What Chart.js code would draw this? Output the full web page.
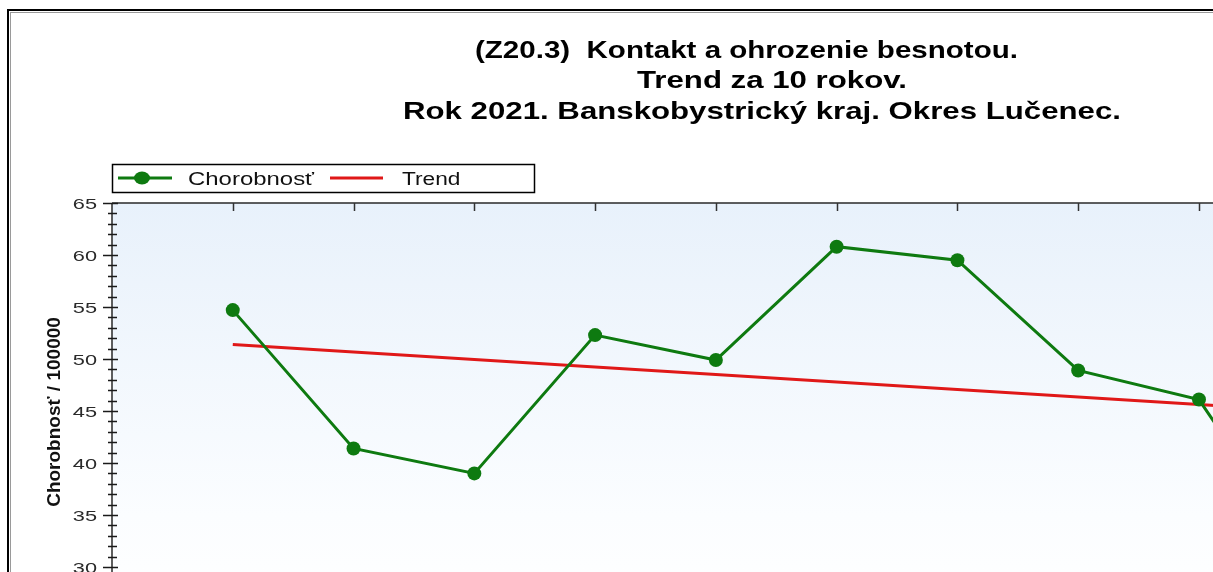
<!DOCTYPE html>
<html>
<head>
<meta charset="utf-8">
<script src="https://cdn.jsdelivr.net/npm/chart.js@4.4.1/dist/chart.umd.min.js"></script>
<style>
  html, body { margin: 0; padding: 0; background: #ffffff; overflow: hidden; width: 1213px; height: 572px; }
  #wrap { position: absolute; left: 0; top: 0; width: 1530px; height: 720px; }
</style>
</head>
<body>
<div id="wrap"><canvas id="c" width="1530" height="720"></canvas></div>
<script>
// ---- data ----
const titleLines = [
  "(Z20.3)  Kontakt a ohrozenie besnotou.",
  "Trend za 10 rokov.",
  "Rok 2021. Banskobystrický kraj. Okres Lučenec."
];
const yAxisTitle = "Chorobnosť / 100000";
const years = [2012, 2013, 2014, 2015, 2016, 2017, 2018, 2019, 2020, 2021];
const incidence = [54.7, 41.4, 39.0, 52.3, 49.9, 60.8, 59.5, 48.9, 46.1, 29.0];
const trendYears = [2012, 2021];
const trendValues = [51.4, 44.9];
const seriesLabels = ["Chorobnosť", "Trend"];

const GREEN = '#0e7a10';
const RED = '#e01818';

function stretchedText(ctx, text, x, y, sx, align, font, color) {
  ctx.save();
  ctx.font = font;
  ctx.fillStyle = color;
  ctx.textAlign = align;
  ctx.textBaseline = 'alphabetic';
  ctx.translate(x, y);
  ctx.scale(sx, 1);
  ctx.fillText(text, 0, 0);
  ctx.restore();
}

const decor = {
  id: 'decor',
  beforeDraw(chart) {
    const ctx = chart.ctx;
    const a = chart.chartArea;
    ctx.save();
    ctx.fillStyle = '#ffffff';
    ctx.fillRect(0, 0, chart.width, chart.height);
    // outer frame
    ctx.strokeStyle = '#9a9a9a';
    ctx.lineWidth = 1;
    ctx.strokeRect(10.5, 12.5, chart.width - 20, chart.height - 20);
    ctx.strokeStyle = '#000000';
    ctx.lineWidth = 2;
    ctx.strokeRect(8, 10, chart.width - 16, chart.height - 16);
    // plot background gradient
    const g = ctx.createLinearGradient(0, a.top, 0, a.bottom);
    g.addColorStop(0, '#e8f1fb');
    g.addColorStop(0.75, '#fbfdff');
    g.addColorStop(1, '#ffffff');
    ctx.fillStyle = g;
    ctx.fillRect(a.left, a.top, a.right - a.left, a.bottom - a.top);
    ctx.restore();
  },
  afterDraw(chart) {
    const ctx = chart.ctx;
    const a = chart.chartArea;
    const ys = chart.scales.y;
    const xs = chart.scales.x;
    ctx.save();
    // top border and left axis
    ctx.strokeStyle = '#2a2a2a';
    ctx.lineWidth = 1.5;
    ctx.beginPath();
    ctx.moveTo(a.left, a.top); ctx.lineTo(a.right, a.top);
    ctx.moveTo(a.left, a.top); ctx.lineTo(a.left, a.bottom);
    ctx.stroke();
    // y minor / major ticks crossing the axis
    ctx.lineWidth = 1.3;
    ctx.strokeStyle = '#1a1a1a';
    ctx.beginPath();
    for (let v = ys.min; v <= ys.max; v += 1) {
      const py = Math.round(ys.getPixelForValue(v)) + 0.5;
      if (v % 5 === 0) { ctx.moveTo(a.left - 9, py); ctx.lineTo(a.left + 6, py); }
      else { ctx.moveTo(a.left - 4, py); ctx.lineTo(a.left + 5, py); }
    }
    ctx.stroke();
    // top x ticks pointing into the plot
    ctx.beginPath();
    ctx.lineWidth = 1.5;
    ctx.strokeStyle = '#333333';
    xs.ticks.forEach(t => {
      if (t.value <= xs.min) return;
      const px = Math.round(xs.getPixelForValue(t.value)) + 0.5;
      ctx.moveTo(px, a.top); ctx.lineTo(px, a.top + 8);
    });
    ctx.stroke();
    // y tick labels
    ys.ticks.forEach(t => {
      const py = ys.getPixelForValue(t.value);
      stretchedText(ctx, String(t.value), a.left - 15, py + 5.5, 1.45, 'right', '15px "Liberation Sans", Arial, sans-serif', '#2a2a2a');
    });
    // y axis title
    ctx.save();
    ctx.translate(55, 412);
    ctx.rotate(-Math.PI / 2);
    ctx.font = 'bold 19px "Liberation Sans", Arial, sans-serif';
    ctx.fillStyle = '#111111';
    ctx.textAlign = 'center';
    ctx.textBaseline = 'middle';
    ctx.fillText(yAxisTitle, 0, 0);
    ctx.restore();
    // title
    const titleX = [475, 637, 403];
    const titleY = [58, 88, 119];
    const titleSX = [1.23, 1.3, 1.3];
    titleLines.forEach((s, i) => {
      stretchedText(ctx, s, titleX[i], titleY[i], titleSX[i], 'left', 'bold 24px "Liberation Sans", Arial, sans-serif', '#000000');
    });
    // legend
    const lx = a.left, ly = 164, lw = 422, lh = 28;
    ctx.fillStyle = '#ffffff';
    ctx.fillRect(lx, ly, lw, lh);
    ctx.strokeStyle = '#000000';
    ctx.lineWidth = 1.5;
    ctx.strokeRect(lx + 0.5, ly + 0.5, lw, lh);
    const ds = chart.data.datasets;
    const cy = ly + 14;
    // item 1
    ctx.strokeStyle = ds[0].borderColor;
    ctx.lineWidth = 3;
    ctx.beginPath(); ctx.moveTo(lx + 6, cy); ctx.lineTo(lx + 60, cy); ctx.stroke();
    ctx.fillStyle = ds[0].pointBackgroundColor;
    ctx.beginPath(); ctx.ellipse(lx + 30, cy, 8, 6.5, 0, 0, Math.PI * 2); ctx.fill();
    stretchedText(ctx, ds[0].label, lx + 76, cy + 6.5, 1.33, 'left', '18px "Liberation Sans", Arial, sans-serif', '#111111');
    // item 2
    ctx.strokeStyle = ds[1].borderColor;
    ctx.lineWidth = 3;
    ctx.beginPath(); ctx.moveTo(lx + 218, cy); ctx.lineTo(lx + 271, cy); ctx.stroke();
    stretchedText(ctx, ds[1].label, lx + 290, cy + 6.5, 1.26, 'left', '18px "Liberation Sans", Arial, sans-serif', '#111111');
    ctx.restore();
  }
};

new Chart(document.getElementById('c'), {
  type: 'line',
  data: {
    datasets: [
      {
        label: seriesLabels[0],
        data: years.map((yr, i) => ({ x: yr, y: incidence[i] })),
        borderColor: GREEN,
        backgroundColor: GREEN,
        pointBackgroundColor: GREEN,
        pointBorderColor: GREEN,
        borderWidth: 3,
        pointRadius: 7,
        pointBorderWidth: 0,
        tension: 0,
        fill: false
      },
      {
        label: seriesLabels[1],
        data: trendYears.map((yr, i) => ({ x: yr, y: trendValues[i] })),
        borderColor: RED,
        backgroundColor: RED,
        borderWidth: 3,
        pointRadius: 0,
        tension: 0,
        fill: false
      }
    ]
  },
  options: {
    responsive: false,
    animation: false,
    devicePixelRatio: 1,
    layout: { padding: { top: 203, left: 0, right: 89.5, bottom: 61 } },
    plugins: { legend: { display: false }, title: { display: false }, tooltip: { enabled: false } },
    scales: {
      x: {
        type: 'linear', min: 2011, max: 2022,
        grid: { display: false }, border: { display: false },
        ticks: { stepSize: 1, callback: v => String(v), color: '#333' },
        afterFit: s => { s.height = 40; }
      },
      y: {
        min: 25, max: 65,
        grid: { display: false }, border: { display: false },
        ticks: { stepSize: 5, display: false },
        afterFit: s => { s.width = 112; }
      }
    }
  },
  plugins: [decor]
});
</script>
</body>
</html>
